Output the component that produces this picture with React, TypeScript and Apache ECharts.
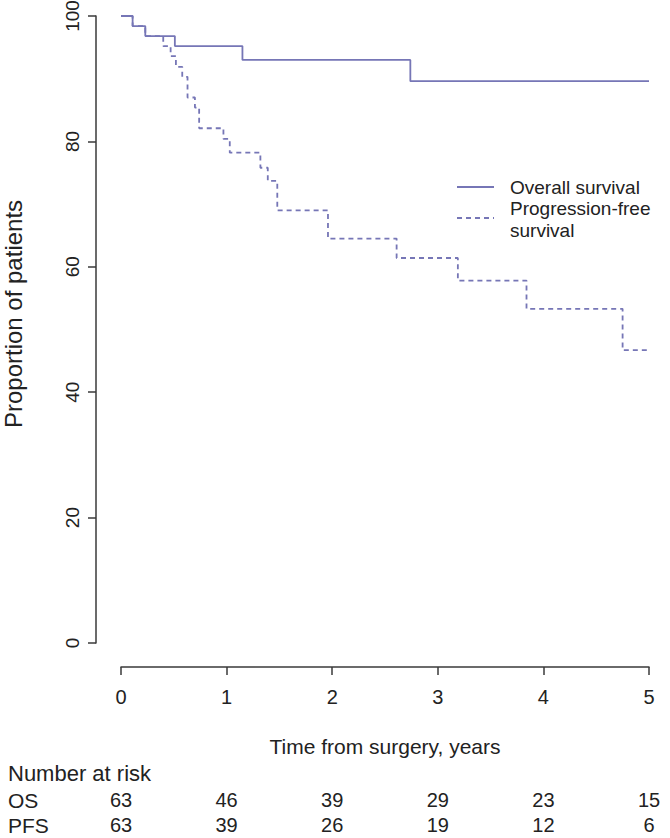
import React, { useEffect, useRef } from "react";
import * as echarts from "echarts";

// Kaplan–Meier step data (time in years, % of patients)
const osTimes = [0, 0.11, 0.23, 0.51, 1.15, 2.74, 5.0];
const osSurv = [100, 98.4, 96.8, 95.2, 93.0, 89.6, 89.6];

const pfsTimes = [0, 0.11, 0.23, 0.4, 0.47, 0.52, 0.58, 0.63, 0.7, 0.74, 0.97, 1.03, 1.32, 1.39, 1.48, 1.96, 2.61, 3.19, 3.84, 4.75, 5.0];
const pfsSurv = [100, 98.4, 96.8, 95.2, 93.6, 91.9, 90.3, 87.0, 85.4, 82.1, 80.4, 78.2, 75.8, 73.7, 69.0, 64.5, 61.4, 57.8, 53.3, 46.7, 46.7];

const xTicks = [0, 1, 2, 3, 4, 5];
const osAtRisk = [63, 46, 39, 29, 23, 15];
const pfsAtRisk = [63, 39, 26, 19, 12, 6];

const seriesNames = ["Overall survival", "Progression-free\nsurvival"];
const rowLabels = ["Number at risk", "OS", "PFS"];
const yTitle = "Proportion of patients";
const xTitle = "Time from surgery, years";

const FONT = "'Liberation Sans', Arial, Helvetica, sans-serif";
const TXT = "#222222";
const AX = "#3a3a3a";
const LINE = "#7676b6";
const FS = 20;

export default function App() {
  const ref = useRef<HTMLDivElement>(null);
  useEffect(() => {
    if (!ref.current) return;
    const chart = echarts.init(ref.current, undefined, { renderer: "svg" });
    const zip = (t: number[], v: number[]) => t.map((x, i) => [x, v[i]]);
    const riskAxis = (arr: number[], offset: number) => ({
      type: "value",
      gridIndex: 0,
      position: "bottom",
      min: 0,
      max: 5,
      interval: 1,
      offset,
      axisLine: { show: false, onZero: false },
      axisTick: { show: false },
      splitLine: { show: false },
      axisLabel: {
        margin: 0,
        fontSize: FS,
        fontFamily: FONT,
        color: TXT,
        formatter: (v: number) => {
          const i = xTicks.indexOf(Math.round(v));
          return i >= 0 ? String(arr[i]) : "";
        },
      },
    });
    chart.setOption({
      animation: false,
      backgroundColor: "#ffffff",
      grid: { left: 121, right: 21, top: 16, bottom: 195, containLabel: false, outerBoundsMode: "none" },
      xAxis: [
        {
          type: "value",
          min: 0,
          max: 5,
          interval: 1,
          offset: 24,
          name: xTitle,
          nameLocation: "middle",
          nameGap: 69,
          nameTextStyle: { fontSize: 21, fontFamily: FONT, color: TXT },
          axisLine: { show: true, onZero: false, lineStyle: { color: AX, width: 1.5 } },
          axisTick: { show: true, length: 8, lineStyle: { color: AX, width: 1.5 } },
          splitLine: { show: false },
          axisLabel: { margin: 20, fontSize: FS, fontFamily: FONT, color: TXT },
        },
        riskAxis(osAtRisk, 147),
        riskAxis(pfsAtRisk, 172),
      ],
      yAxis: {
        type: "value",
        min: 0,
        max: 100,
        interval: 20,
        offset: 25,
        axisLine: { show: true, onZero: false, lineStyle: { color: AX, width: 1.5 } },
        axisTick: { show: true, length: 8, lineStyle: { color: AX, width: 1.5 } },
        splitLine: { show: false },
        axisLabel: { margin: 14, rotate: 90, fontSize: 19, fontFamily: FONT, color: TXT },
      },
      series: [
        {
          name: seriesNames[0],
          type: "line",
          step: "end",
          symbol: "none",
          clip: false,
          data: zip(osTimes, osSurv),
          lineStyle: { color: LINE, width: 1.8 },
        },
        {
          name: seriesNames[1],
          type: "line",
          step: "end",
          symbol: "none",
          clip: false,
          data: zip(pfsTimes, pfsSurv),
          lineStyle: { color: LINE, width: 1.8, type: [5, 4] },
        },
      ],
      graphic: [
        {
          type: "text",
          x: 13,
          y: 314,
          rotation: Math.PI / 2,
          style: { text: yTitle, fontSize: 24, fontFamily: FONT, fill: TXT, align: "center", verticalAlign: "middle" },
        },
        { type: "line", shape: { x1: 457, y1: 187, x2: 494, y2: 187 }, style: { stroke: LINE, lineWidth: 1.8 } },
        { type: "text", x: 510, y: 187, style: { text: seriesNames[0], fontSize: 19, fontFamily: FONT, fill: TXT, verticalAlign: "middle" } },
        { type: "line", shape: { x1: 457, y1: 218, x2: 494, y2: 218 }, style: { stroke: LINE, lineWidth: 1.8, lineDash: [5, 4] } },
        { type: "text", x: 510, y: 219, style: { text: seriesNames[1], fontSize: 19, fontFamily: FONT, fill: TXT, verticalAlign: "middle", lineHeight: 22 } },
        { type: "text", x: 8, y: 773, style: { text: rowLabels[0], fontSize: 22, fontFamily: FONT, fill: TXT, verticalAlign: "middle" } },
        { type: "text", x: 8, y: 800, style: { text: rowLabels[1], fontSize: 21, fontFamily: FONT, fill: TXT, verticalAlign: "middle" } },
        { type: "text", x: 8, y: 825, style: { text: rowLabels[2], fontSize: 21, fontFamily: FONT, fill: TXT, verticalAlign: "middle" } },
      ],
    });
    return () => chart.dispose();
  }, []);
  return (
    <div
      ref={ref}
      style={{ position: "fixed", left: 0, top: 0, width: 670, height: 838, background: "#fff" }}
    />
  );
}
